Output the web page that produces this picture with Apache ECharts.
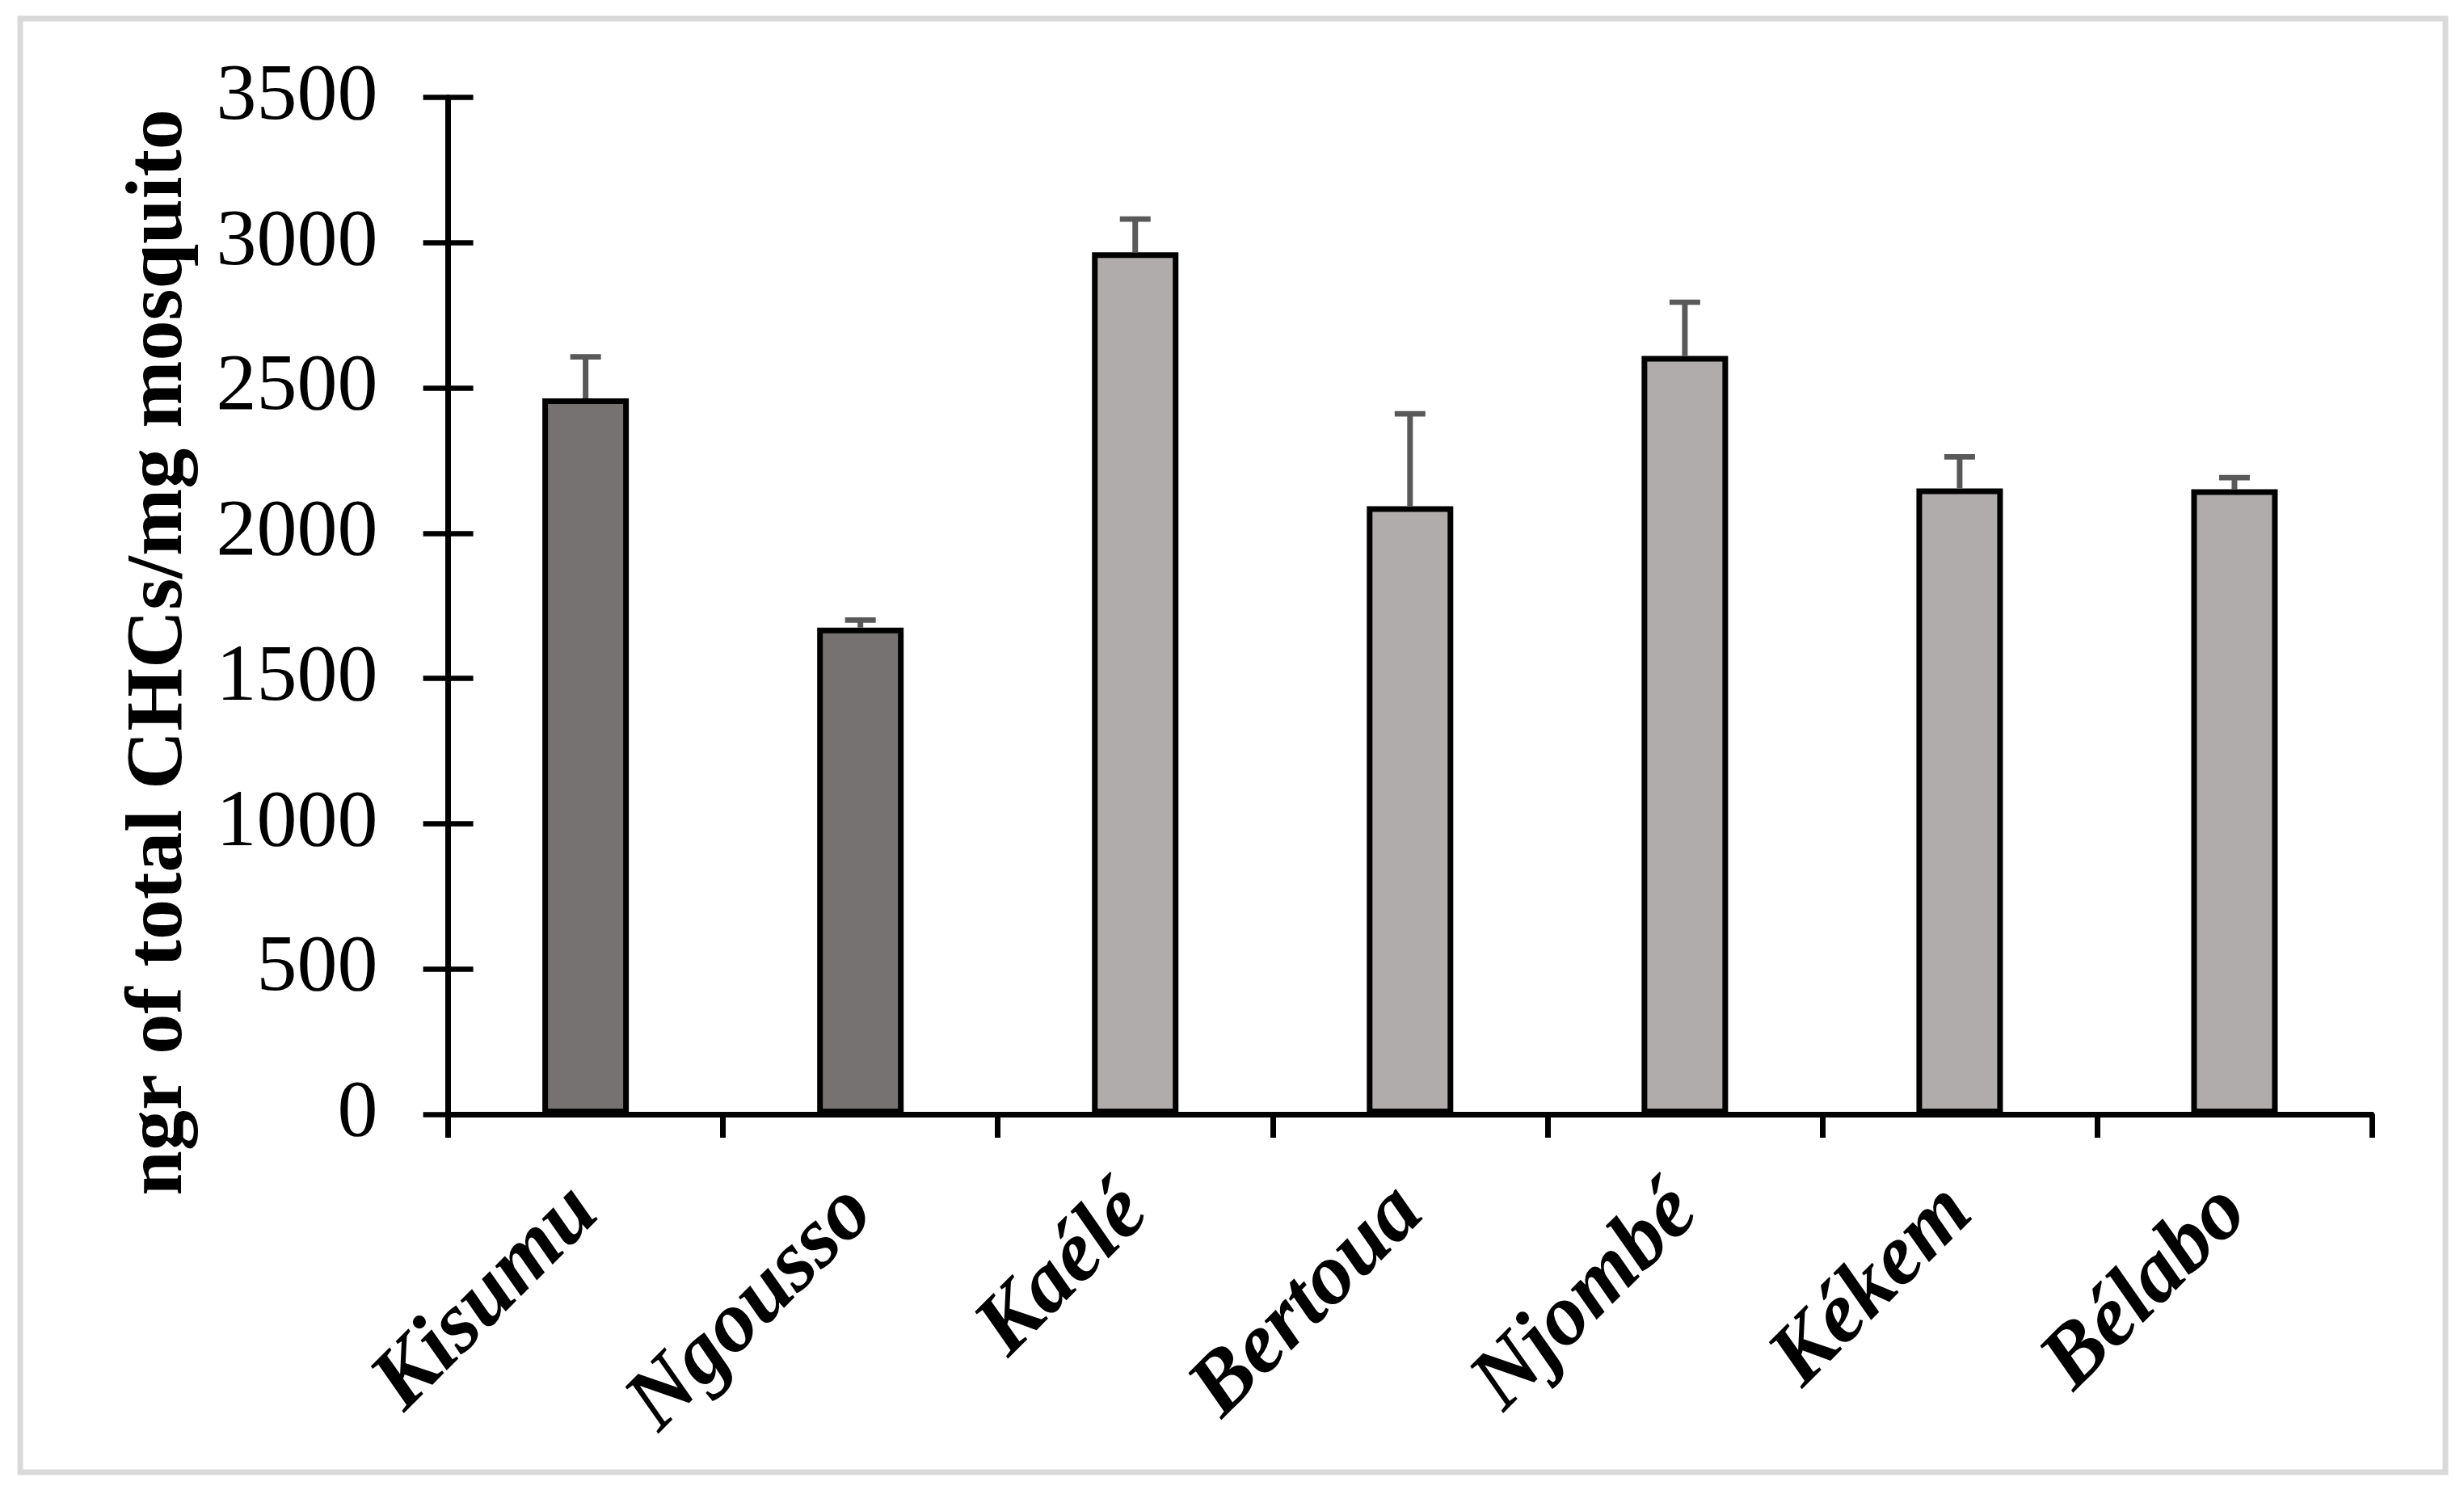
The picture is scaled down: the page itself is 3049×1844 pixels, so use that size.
<!DOCTYPE html>
<html>
<head>
<meta charset="utf-8">
<script src="https://cdn.jsdelivr.net/npm/echarts@6/dist/echarts.min.js"></script>
<style>
  html, body { margin: 0; padding: 0; background: #ffffff; }
  #chart { width: 3049px; height: 1844px; }
</style>
</head>
<body>
<div id="chart"></div>
<script>
// ---- data ----
const categories = ['Kisumu', 'Ngousso', 'Kaélé', 'Bertoua', 'Njombé', 'Kékem', 'Bélabo'];
const totalCHCs = [2464, 1675, 2967, 2093, 2610, 2154, 2151];
const errorSE = [143, 26, 114, 318, 185, 109, 40];
const labStrains = ['Kisumu', 'Ngousso'];
const yTicks = [0, 500, 1000, 1500, 2000, 2500, 3000, 3500];
const yAxisTitle = 'ngr of total CHCs/mg mosquito';

// ---- styles ----
const FONT = '"Liberation Serif", "Times New Roman", serif';
const DARK = '#767271';
const LIGHT = '#AFACAB';
const ERR = '#595959';

const chart = echarts.init(document.getElementById('chart'), null, { renderer: 'canvas' });

const errData = categories.map((c, i) => [i, totalCHCs[i], errorSE[i]]);

const option = {
  backgroundColor: '#ffffff',
  animation: false,
  grid: { left: 554.6, right: 114, top: 120.5, bottom: 465 },
  xAxis: {
    type: 'category',
    data: categories,
    axisLine: { lineStyle: { color: '#000', width: 7 } },
    axisTick: { show: true, length: 29, inside: false, lineStyle: { color: '#000', width: 7 } },
    axisLabel: {
      rotate: 45,
      margin: 106,
      fontFamily: FONT,
      fontWeight: 'bold',
      fontStyle: 'italic',
      fontSize: 107,
      color: '#000'
    },
    splitLine: { show: false }
  },
  yAxis: [
    {
      type: 'value',
      min: yTicks[0],
      max: yTicks[yTicks.length - 1],
      interval: 500,
      axisLine: { show: true, lineStyle: { color: '#000', width: 7 } },
      axisTick: { show: true, length: 31, inside: false, lineStyle: { color: '#000', width: 6.5 } },
      axisLabel: {
        margin: 87,
        fontFamily: FONT,
        fontSize: 100,
        color: '#000',
        formatter: (v) => String(v)
      },
      splitLine: { show: false }
    },
    {
      type: 'value',
      min: yTicks[0],
      max: yTicks[yTicks.length - 1],
      interval: 500,
      position: 'left',
      axisLine: { show: false },
      axisTick: { show: true, length: 31, inside: true, lineStyle: { color: '#000', width: 6.5 } },
      axisLabel: { show: false },
      splitLine: { show: false }
    }
  ],
  graphic: [
    {
      type: 'rect',
      shape: { x: 25, y: 23, width: 3001, height: 1799 },
      style: { fill: 'none', stroke: '#D9D9D9', lineWidth: 7 },
      z: 0
    },
    {
      type: 'text',
      x: 198,
      y: 807.5,
      rotation: Math.PI / 2,
      style: {
        text: yAxisTitle,
        font: 'bold 100px ' + FONT,
        fill: '#000',
        textAlign: 'center',
        textVerticalAlign: 'middle'
      },
      z: 10
    }
  ],
  series: [
    {
      type: 'bar',
      data: totalCHCs,
      barWidth: 107,
      itemStyle: {
        color: (p) => labStrains.includes(categories[p.dataIndex]) ? DARK : LIGHT,
        borderColor: '#000',
        borderWidth: 7
      },
      z: 2
    },
    {
      type: 'custom',
      data: errData,
      z: 5,
      renderItem: function (params, api) {
        const idx = api.value(0);
        const v = api.value(1);
        const e = api.value(2);
        const base = api.coord([idx, v]);
        const top = api.coord([idx, v + e]);
        return {
          type: 'group',
          children: [
            {
              type: 'line',
              shape: { x1: base[0], y1: base[1], x2: base[0], y2: top[1] },
              style: { stroke: ERR, lineWidth: 7 }
            },
            {
              type: 'line',
              shape: { x1: base[0] - 19, y1: top[1], x2: base[0] + 19, y2: top[1] },
              style: { stroke: ERR, lineWidth: 6.7 }
            }
          ]
        };
      }
    }
  ]
};

chart.setOption(option);
</script>
</body>
</html>
